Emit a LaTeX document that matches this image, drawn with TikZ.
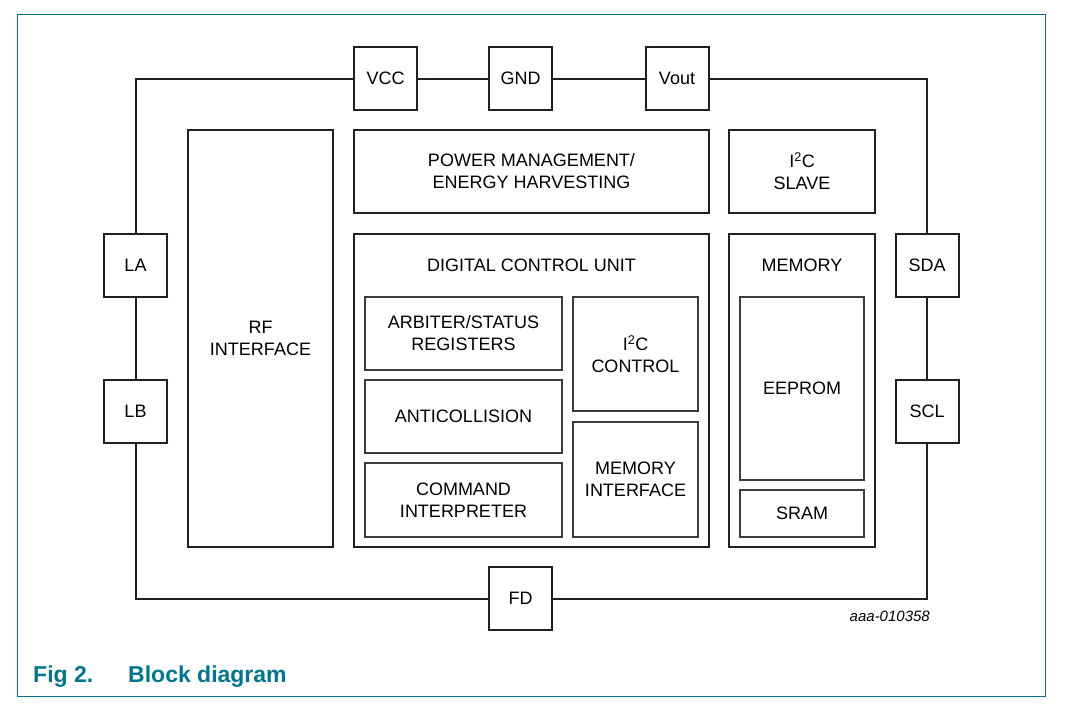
\documentclass[tikz,border=0pt]{standalone}
\usepackage{fontspec}
\setmainfont{Liberation Sans}
\usetikzlibrary{positioning}
\definecolor{FrameClr}{RGB}{0,117,143}
\definecolor{LineClr}{RGB}{35,31,32}
\definecolor{SubClr}{RGB}{60,60,60}

\begin{document}
\begin{tikzpicture}[x=1pt,y=-1pt,
  blk/.style 2 args={draw=LineClr,line width=2pt,minimum width=#1pt,minimum height=#2pt,
    align=center,inner sep=0pt,font=\fontsize{18}{22}\selectfont},
  sub/.style 2 args={draw=SubClr,line width=1.2pt,minimum width=#1pt,minimum height=#2pt,
    align=center,inner sep=0pt,font=\fontsize{18}{22}\selectfont},
  txt/.style={align=center,inner sep=0pt,font=\fontsize{18}{22}\selectfont},
  wire/.style={draw=LineClr,line width=2pt},
  caption/.style={text=FrameClr,inner sep=0pt,font=\fontsize{23}{27}\selectfont\bfseries}]
\useasboundingbox (0,0) rectangle (1069,721);
\draw[FrameClr,line width=1pt] (17,14) rectangle (1045,696);

% pins
\node[blk={63}{63}] (VCC)  at (385.5,78.5) {VCC};
\node[blk={63}{63}] (GND)  at (520.5,78.5) {GND};
\node[blk={63}{63}] (Vout) at (677,78.5)   {Vout};
\node[blk={63}{63}] (LA)   at (135.5,265.5) {LA};
\node[blk={63}{63}] (LB)   at (135.5,411)   {LB};
\node[blk={63}{63}] (SDA)  at (927,265.5)   {SDA};
\node[blk={63}{63}] (SCL)  at (927,411)     {SCL};
\node[blk={63}{63}] (FD)   at (520.5,598.5) {FD};

\draw[wire] (VCC.west) -| (LA.north);
\draw[wire] (LA) -- (LB);
\draw[wire] (LB.south) |- (FD.west);
\draw[wire] (FD.east) -| (SCL.south);
\draw[wire] (SCL) -- (SDA);
\draw[wire] (SDA.north) |- (Vout.east);
\draw[wire] (Vout) -- (GND);
\draw[wire] (GND) -- (VCC);

% main blocks
\node[blk={145}{417}] (RF)  at (260.5,338.5) {RF\\INTERFACE};
\node[blk={355}{83}]  (PM)  at (531.5,171.5) {POWER MANAGEMENT/\\ENERGY HARVESTING};
\node[blk={146}{83}]  (I2CS) at (802,171.5) {I\textsuperscript{2}C\\SLAVE};
\node[blk={355}{313}] (DCU) at (531.5,390.5) {};
\node[blk={146}{313}] (MEM) at (802,390.5) {};
\node[txt] (DCUtxt) at (531.5,265.5) {DIGITAL CONTROL UNIT};
\node[txt] (MEMtxt) at (802,265.5) {MEMORY};

% digital control unit
\node[sub={197}{73}]  (ARB)  at (463.5,333.5) {ARBITER/STATUS\\REGISTERS};
\node[sub={197}{73}]  (ANTI) at (463.5,416.5) {ANTICOLLISION};
\node[sub={197}{74}]  (CMD)  at (463.5,500)   {COMMAND\\INTERPRETER};
\node[sub={125}{114}] (I2CC) at (635.5,354)   {I\textsuperscript{2}C\\CONTROL};
\node[sub={125}{115}] (MIF)  at (635.5,479.5) {MEMORY\\INTERFACE};

% memory
\node[sub={124}{183}] (EEP)  at (802,388.5) {EEPROM};
\node[sub={124}{47}]  (SRAM) at (802,513.5) {SRAM};

\node[anchor=east,inner sep=0pt,font=\fontsize{15}{18}\selectfont\itshape] (code) at (930,616) {aaa-010358};
\node[caption,anchor=base west] (fig) at (33,682) {Fig 2.};
\node[caption,anchor=base west] (title) at (128,682) {Block diagram};
\end{tikzpicture}
\end{document}
